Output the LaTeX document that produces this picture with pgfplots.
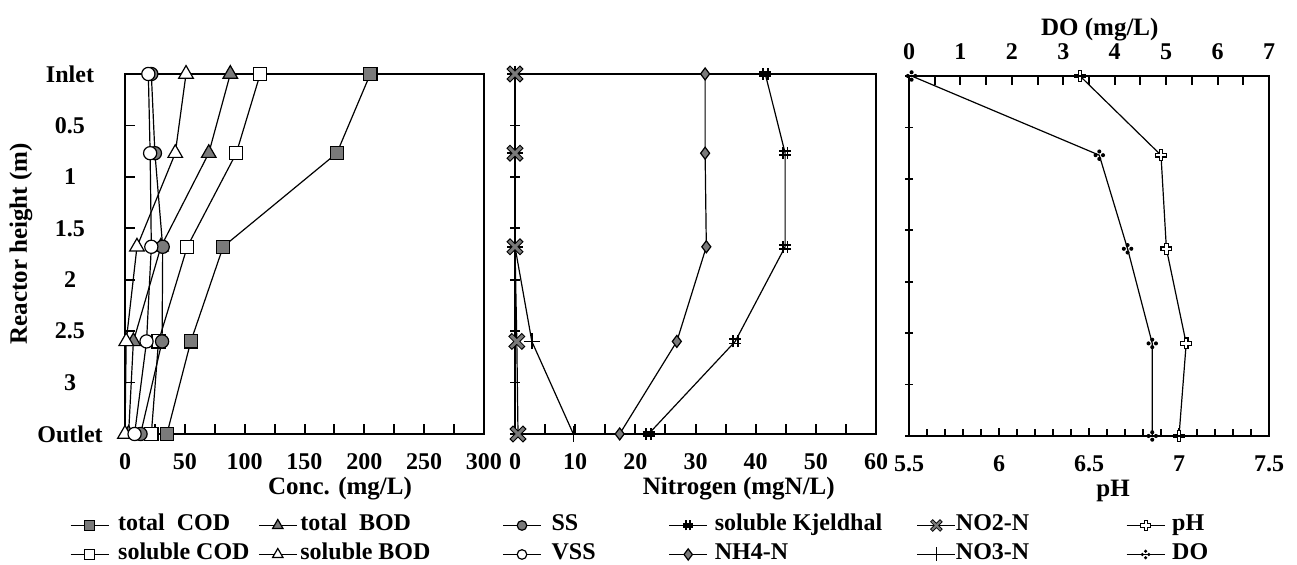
\documentclass[border=0pt]{standalone}
\usepackage{fontspec}
\setmainfont{Liberation Serif}
\usepackage{pgfplots}
\usepackage{pgfplotstable}
\pgfplotsset{compat=1.18}
\definecolor{mgray}{RGB}{122,122,122}

\pgfdeclareplotmark{kjel}{%
  \pgfsetlinewidth{0.9pt}%
  \pgfpathmoveto{\pgfpoint{-0.4\pgfplotmarksize}{-\pgfplotmarksize}}\pgfpathlineto{\pgfpoint{-0.4\pgfplotmarksize}{\pgfplotmarksize}}%
  \pgfpathmoveto{\pgfpoint{0.4\pgfplotmarksize}{-\pgfplotmarksize}}\pgfpathlineto{\pgfpoint{0.4\pgfplotmarksize}{\pgfplotmarksize}}%
  \pgfpathmoveto{\pgfpoint{-\pgfplotmarksize}{-0.35\pgfplotmarksize}}\pgfpathlineto{\pgfpoint{\pgfplotmarksize}{-0.35\pgfplotmarksize}}%
  \pgfpathmoveto{\pgfpoint{-\pgfplotmarksize}{0.35\pgfplotmarksize}}\pgfpathlineto{\pgfpoint{\pgfplotmarksize}{0.35\pgfplotmarksize}}%
  \pgfusepath{stroke}}
\pgfdeclareplotmark{xgray}{%
  \pgfsetbuttcap
  \pgfsetlinewidth{0.75\pgfplotmarksize}\pgfsetstrokecolor{black}%
  \pgfpathmoveto{\pgfpoint{-\pgfplotmarksize}{-\pgfplotmarksize}}\pgfpathlineto{\pgfpoint{\pgfplotmarksize}{\pgfplotmarksize}}%
  \pgfpathmoveto{\pgfpoint{-\pgfplotmarksize}{\pgfplotmarksize}}\pgfpathlineto{\pgfpoint{\pgfplotmarksize}{-\pgfplotmarksize}}%
  \pgfusepath{stroke}%
  \pgfsetlinewidth{0.45\pgfplotmarksize}\pgfsetstrokecolor{mgray}%
  \pgfpathmoveto{\pgfpoint{-0.88\pgfplotmarksize}{-0.88\pgfplotmarksize}}\pgfpathlineto{\pgfpoint{0.88\pgfplotmarksize}{0.88\pgfplotmarksize}}%
  \pgfpathmoveto{\pgfpoint{-0.88\pgfplotmarksize}{0.88\pgfplotmarksize}}\pgfpathlineto{\pgfpoint{0.88\pgfplotmarksize}{-0.88\pgfplotmarksize}}%
  \pgfusepath{stroke}}
\pgfdeclareplotmark{wplus}{%
  \pgfsetbuttcap
  \pgfsetlinewidth{0.8\pgfplotmarksize}\pgfsetstrokecolor{black}%
  \pgfpathmoveto{\pgfpoint{-\pgfplotmarksize}{0pt}}\pgfpathlineto{\pgfpoint{\pgfplotmarksize}{0pt}}%
  \pgfpathmoveto{\pgfpoint{0pt}{-\pgfplotmarksize}}\pgfpathlineto{\pgfpoint{0pt}{\pgfplotmarksize}}%
  \pgfusepath{stroke}%
  \pgfsetlinewidth{0.4\pgfplotmarksize}\pgfsetstrokecolor{white}%
  \pgfpathmoveto{\pgfpoint{-0.8\pgfplotmarksize}{0pt}}\pgfpathlineto{\pgfpoint{0.8\pgfplotmarksize}{0pt}}%
  \pgfpathmoveto{\pgfpoint{0pt}{-0.8\pgfplotmarksize}}\pgfpathlineto{\pgfpoint{0pt}{0.8\pgfplotmarksize}}%
  \pgfusepath{stroke}}
\pgfdeclareplotmark{fourdot}{%
  \pgfsetfillcolor{black}%
  \pgfpathcircle{\pgfpoint{0.62\pgfplotmarksize}{0pt}}{0.34\pgfplotmarksize}%
  \pgfpathcircle{\pgfpoint{-0.62\pgfplotmarksize}{0pt}}{0.34\pgfplotmarksize}%
  \pgfpathcircle{\pgfpoint{0pt}{0.62\pgfplotmarksize}}{0.34\pgfplotmarksize}%
  \pgfpathcircle{\pgfpoint{0pt}{-0.62\pgfplotmarksize}}{0.34\pgfplotmarksize}%
  \pgfusepath{fill}}

% heights (m): Inlet = 0, Outlet = 3.5
\pgfplotstableread{
h     tCOD sCOD tBOD sBOD SS   VSS
0     205  113  88   51   22   19.5
0.77  177  93   70   42   25   21
1.68  82   52   30   10   31.5 22
2.6   55   28   7    1    31   18
3.5   35   22   3    0    13   8
}\tone
\pgfplotstableread{
h     TKN  NH4  NOtwo NOthree
0     41.6 31.6 0     0
0.77  44.9 31.6 0     0
1.68  44.9 31.8 0     0
2.6   36.6 26.9 0.3   2.8
3.5   22.2 17.4 0.5   9.7
}\ttwo
\pgfplotstableread{
h     pH    DO
0     6.45  0.05
0.77  6.90  3.70
1.68  6.93  4.25
2.6   7.04  4.73
3.5   7.00  4.73
}\tthree

\newcommand\labfont{\fontsize{12.5}{14}\selectfont\bfseries}
\pgfplotsset{
  base/.style={
    anchor=south west, scale only axis, height=180pt,
    ymin=0, ymax=3.5,
    ytick={0,0.5,1,1.5,2,2.5,3,3.5},
    axis line style={line width=1pt},
    tick style={line width=0.9pt, black},
    xtick style={black, line width=1pt},
    major tick length=5pt, minor tick length=5pt,
    /pgf/number format/assume math mode=true,
    tick label style={font=\fontsize{12}{14}\selectfont\bfseries},
    every axis plot/.append style={line width=0.6pt, black},
  },
  boxed/.style={
    axis lines=box,
    xtick pos=left, ytick pos=left,
    tick align=inside,
  },
  sTCOD/.style={mark=square*, mark options={fill=mgray, draw=black, solid, line width=0.6pt}},
  sSCOD/.style={mark=square*, mark options={fill=white, draw=black, solid, line width=0.6pt}},
  sTBOD/.style={mark=triangle*, mark options={fill=mgray, draw=black, solid, line width=0.6pt}},
  sSBOD/.style={mark=triangle*, mark options={fill=white, draw=black, solid, line width=0.6pt}},
  sSS/.style={mark=*, mark options={fill=mgray, draw=black, solid, line width=0.6pt}},
  sVSS/.style={mark=*, mark options={fill=white, draw=black, solid, line width=0.6pt}},
  sTKN/.style={mark=kjel},
  sNH/.style={mark=diamond*, mark options={fill=mgray, draw=black, solid, line width=0.6pt}},
  sNOtwo/.style={mark=xgray},
  sNOthree/.style={mark=+, mark options={line width=0.8pt}},
  spH/.style={mark=wplus},
  sDO/.style={mark=fourdot},
}

\begin{document}
\begin{tikzpicture}
% ---------- panel 1
\begin{axis}[base, boxed, at={(62.5pt,65.5pt)}, width=179.5pt,
  xmin=0, xmax=300, xtick={0,50,...,300}, minor xtick={25,75,...,275},
  xticklabel style={anchor=center, yshift=-14pt},
  yticklabels={Outlet,3,2.5,2,1.5,1,0.5,Inlet},
  yticklabel style={anchor=center, xshift=-27.5pt},
  xlabel={Conc. (mg/L)},
  xlabel style={font=\labfont, at={(axis description cs:0.599,-0.152)}, anchor=center},
  ylabel={Reactor height (m)},
  ylabel style={font=\labfont, at={(axis description cs:-0.29,0.528)}, anchor=center, rotate=0},
  legend columns=6,
  legend style={at={(axis description cs:-0.1532,-0.2139)}, anchor=north west,
    draw=none, fill=none, inner sep=0pt, outer sep=0pt,
    column sep=0pt, row sep=0pt,
    nodes={inner sep=0pt, text height=10pt, text depth=4.5pt,
      font=\fontsize{12}{14}\selectfont\bfseries}},
  legend cell align=left,
  legend image code/.code={\draw[mark repeat=2,mark phase=2,line width=0.6pt] plot coordinates {(0pt,0pt)(9.5pt,0pt)(19pt,0pt)};},
]
\addplot[sTCOD, mark size=3.3pt, forget plot] table[x=tCOD, y expr=3.5-\thisrow{h}] {\tone};
\addplot[sSCOD, mark size=3.3pt, forget plot] table[x=sCOD, y expr=3.5-\thisrow{h}] {\tone};
\addplot[sTBOD, mark size=4.2pt, forget plot] table[x=tBOD, y expr=3.5-\thisrow{h}] {\tone};
\addplot[sSBOD, mark size=4.2pt, forget plot] table[x=sBOD, y expr=3.5-\thisrow{h}] {\tone};
\addplot[sSS, mark size=3.3pt, forget plot] table[x=SS, y expr=3.5-\thisrow{h}] {\tone};
\addplot[sVSS, mark size=3.3pt, forget plot] table[x=VSS, y expr=3.5-\thisrow{h}] {\tone};

\addlegendimage{sTCOD, mark size=2.5pt}
\addlegendentry{\hspace*{4.5pt}\makebox[70pt][l]{total~~COD}}
\addlegendimage{sTBOD, mark size=3pt}
\addlegendentry{\hspace*{1.5pt}\makebox[101pt][l]{total~~BOD}}
\addlegendimage{sSS, mark size=2.4pt}
\addlegendentry{\hspace*{5pt}\makebox[58.5pt][l]{SS}}
\addlegendimage{sTKN, mark size=2.5pt}
\addlegendentry{\hspace*{3.5pt}\makebox[101pt][l]{soluble Kjeldhal}}
\addlegendimage{sNOtwo, mark size=2.5pt}
\addlegendentry{\hspace*{0pt}\makebox[85pt][l]{NO2-N}}
\addlegendimage{spH, mark size=2.6pt}
\addlegendentry{\hspace*{3.5pt}\makebox[25pt][l]{pH}}
\addlegendimage{sSCOD, mark size=2.5pt}
\addlegendentry{\hspace*{4.5pt}\makebox[70pt][l]{soluble COD}}
\addlegendimage{sSBOD, mark size=3pt}
\addlegendentry{\hspace*{1.5pt}\makebox[101pt][l]{soluble BOD}}
\addlegendimage{sVSS, mark size=2.4pt}
\addlegendentry{\hspace*{5pt}\makebox[58.5pt][l]{VSS}}
\addlegendimage{sNH, mark size=2.8pt}
\addlegendentry{\hspace*{3.5pt}\makebox[101pt][l]{NH4-N}}
\addlegendimage{sNOthree, mark size=3.5pt}
\addlegendentry{\hspace*{0pt}\makebox[85pt][l]{NO3-N}}
\addlegendimage{sDO, mark size=2.6pt}
\addlegendentry{\hspace*{3.5pt}\makebox[25pt][l]{DO}}
\end{axis}

% ---------- panel 2
\begin{axis}[base, boxed, at={(257.5pt,65.5pt)}, width=180.5pt,
  xmin=0, xmax=60, xtick={0,10,...,60}, minor xtick={5,15,...,55},
  xticklabel style={anchor=center, yshift=-14pt},
  yticklabels={}, ytick style={/pgfplots/tick align=center},
  xlabel={Nitrogen (mgN/L)},
  xlabel style={font=\labfont, at={(axis description cs:0.62,-0.152)}, anchor=center},
]
\addplot[sTKN, mark size=3pt] table[x=TKN, y expr=3.5-\thisrow{h}] {\ttwo};
\addplot[sNH, mark size=3pt] table[x=NH4, y expr=3.5-\thisrow{h}] {\ttwo};
\addplot[sNOthree, mark size=4pt] table[x=NOthree, y expr=3.5-\thisrow{h}] {\ttwo};
\addplot[sNOtwo, mark size=3.4pt] table[x=NOtwo, y expr=3.5-\thisrow{h}] {\ttwo};
\end{axis}

% ---------- panel 3 (pH, bottom)
\begin{axis}[base, boxed, at={(454.5pt,64.5pt)}, width=180pt,
  xmin=5.5, xmax=7.5, xtick={5.5,6,...,7.5}, minor x tick num=4,
  major tick length=4pt, minor tick length=3.5pt,
  xticklabel style={anchor=center, yshift=-14pt},
  yticklabels={}, ytick style={/pgfplots/tick align=center},
  xlabel={pH},
  xlabel style={font=\labfont, at={(axis description cs:0.567,-0.152)}, anchor=center},
]
\addplot[spH, mark size=3pt] table[x=pH, y expr=3.5-\thisrow{h}] {\tthree};
\end{axis}
% ---------- panel 3 (DO, top)
\begin{axis}[base, at={(454.5pt,64.5pt)}, width=180pt,
  xmin=0, xmax=7, xtick={0,1,...,7}, minor xtick={0.5,1.5,...,6.5},
  major tick length=4.5pt, minor tick length=4.5pt,
  axis lines=box, hide y axis,
  xtick pos=right, xticklabel pos=right, tick align=inside,
  xticklabel style={anchor=center, yshift=12pt},
  xlabel={DO (mg/L)},
  xlabel style={font=\labfont, at={(axis description cs:0.53,1.128)}, anchor=center},
]
\addplot[sDO, mark size=3pt] table[x=DO, y expr=3.5-\thisrow{h}] {\tthree};
\end{axis}

\pgfresetboundingbox
\path[use as bounding box] (0,0) rectangle (648.5pt,282.5pt);
\end{tikzpicture}
\end{document}
